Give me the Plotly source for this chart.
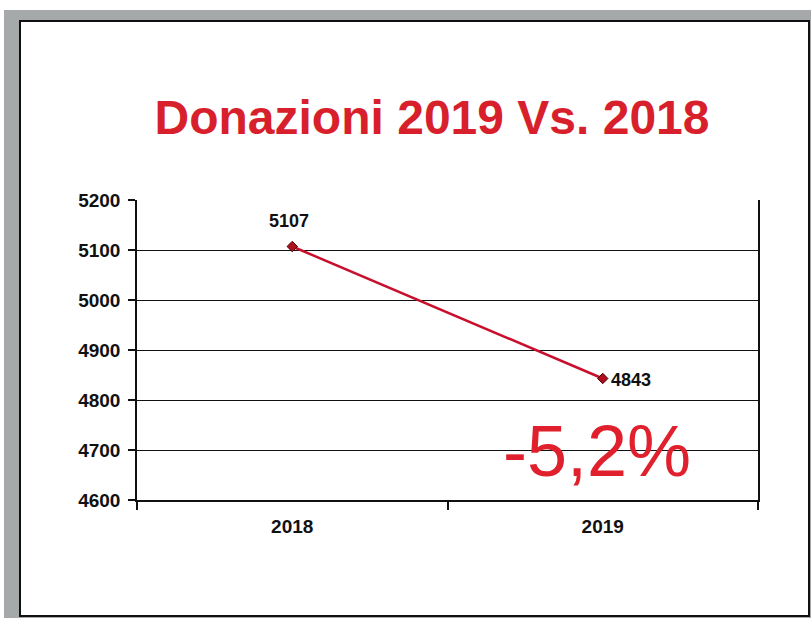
import plotly.graph_objects as go

years = ["2018", "2019"]
donations = [5107, 4843]
change_label = "-5,2%"
title_text = "Donazioni 2019 Vs. 2018"

W, H = 811, 618
L, R, T, B = 137, 53, 200, 118
PW, PH = W - L - R, H - T - B

def px(x):
    return (x - L) / PW

def py(y):
    return (H - B - y) / PH

FONT = "Liberation Sans, Arial, sans-serif"
RED = "#d81f2c"

fig = go.Figure()
fig.add_trace(go.Scatter(
    x=years, y=donations, mode="lines+markers",
    line=dict(color="#c8102e", width=2.5),
    marker=dict(symbol="diamond", size=8, color="#b0101e",
                line=dict(color="#400", width=1)),
    hoverinfo="x+y", showlegend=False,
))

# data labels (category index positions)
fig.add_annotation(x=0, y=donations[0], text="<b>%d</b>" % donations[0],
                   showarrow=False, yshift=26, xshift=-3,
                   font=dict(family=FONT, size=18, color="#111"),
                   xanchor="center", yanchor="middle")
fig.add_annotation(x=1, y=donations[1], text="<b>%d</b>" % donations[1],
                   showarrow=False, xshift=6, yshift=-1,
                   font=dict(family=FONT, size=18, color="#111"),
                   xanchor="left", yanchor="middle")
# big change label
fig.add_annotation(xref="paper", yref="paper", x=px(597), y=py(451),
                   text=change_label, showarrow=False,
                   font=dict(family=FONT, size=72, color="#e0202c"),
                   xanchor="center", yanchor="middle")

# frame: gray band and black-bordered white panel
fig.add_shape(type="rect", xref="paper", yref="paper",
              x0=px(4), x1=px(811), y0=py(618), y1=py(10),
              fillcolor="#a5a9a9", line=dict(width=0), layer="below")
fig.add_shape(type="rect", xref="paper", yref="paper",
              x0=px(20), x1=px(809), y0=py(616), y1=py(21),
              fillcolor="white", line=dict(color="#111", width=2), layer="below")

fig.update_layout(
    width=W, height=H,
    margin=dict(l=L, r=R, t=T, b=B),
    paper_bgcolor="white",
    plot_bgcolor="rgba(0,0,0,0)",
    title=dict(text="<b>" + title_text + "</b>", x=432 / W, xanchor="center",
               y=1 - 117 / H, yanchor="middle", yref="container",
               font=dict(family=FONT, size=48, color=RED)),
    xaxis=dict(type="category", range=[-0.5, 1.5],
               showline=True, linecolor="#111", linewidth=1.5,
               ticks="outside", tickson="boundaries", ticklen=8,
               tickcolor="#111", tickwidth=1.5, showgrid=False,
               tickfont=dict(family=FONT, size=19, color="#111"),
               ticklabelstandoff=8),
    yaxis=dict(range=[4600, 5200], dtick=100, tick0=4600,
               showline=True, linecolor="#111", linewidth=1.5, mirror=True,
               ticks="outside", ticklen=7, tickcolor="#111", tickwidth=1.5,
               showgrid=True, gridcolor="#111", gridwidth=1.2,
               zeroline=False,
               tickfont=dict(family=FONT, size=19, color="#111"),
               ticklabelstandoff=4),
)
# bold tick labels
fig.update_xaxes(tickvals=years, ticktext=["<b>%s</b>" % y for y in years])
yt = list(range(4600, 5201, 100))
fig.update_yaxes(tickvals=yt, ticktext=["<b>%d</b>" % v for v in yt])

fig.write_html("out.html")
